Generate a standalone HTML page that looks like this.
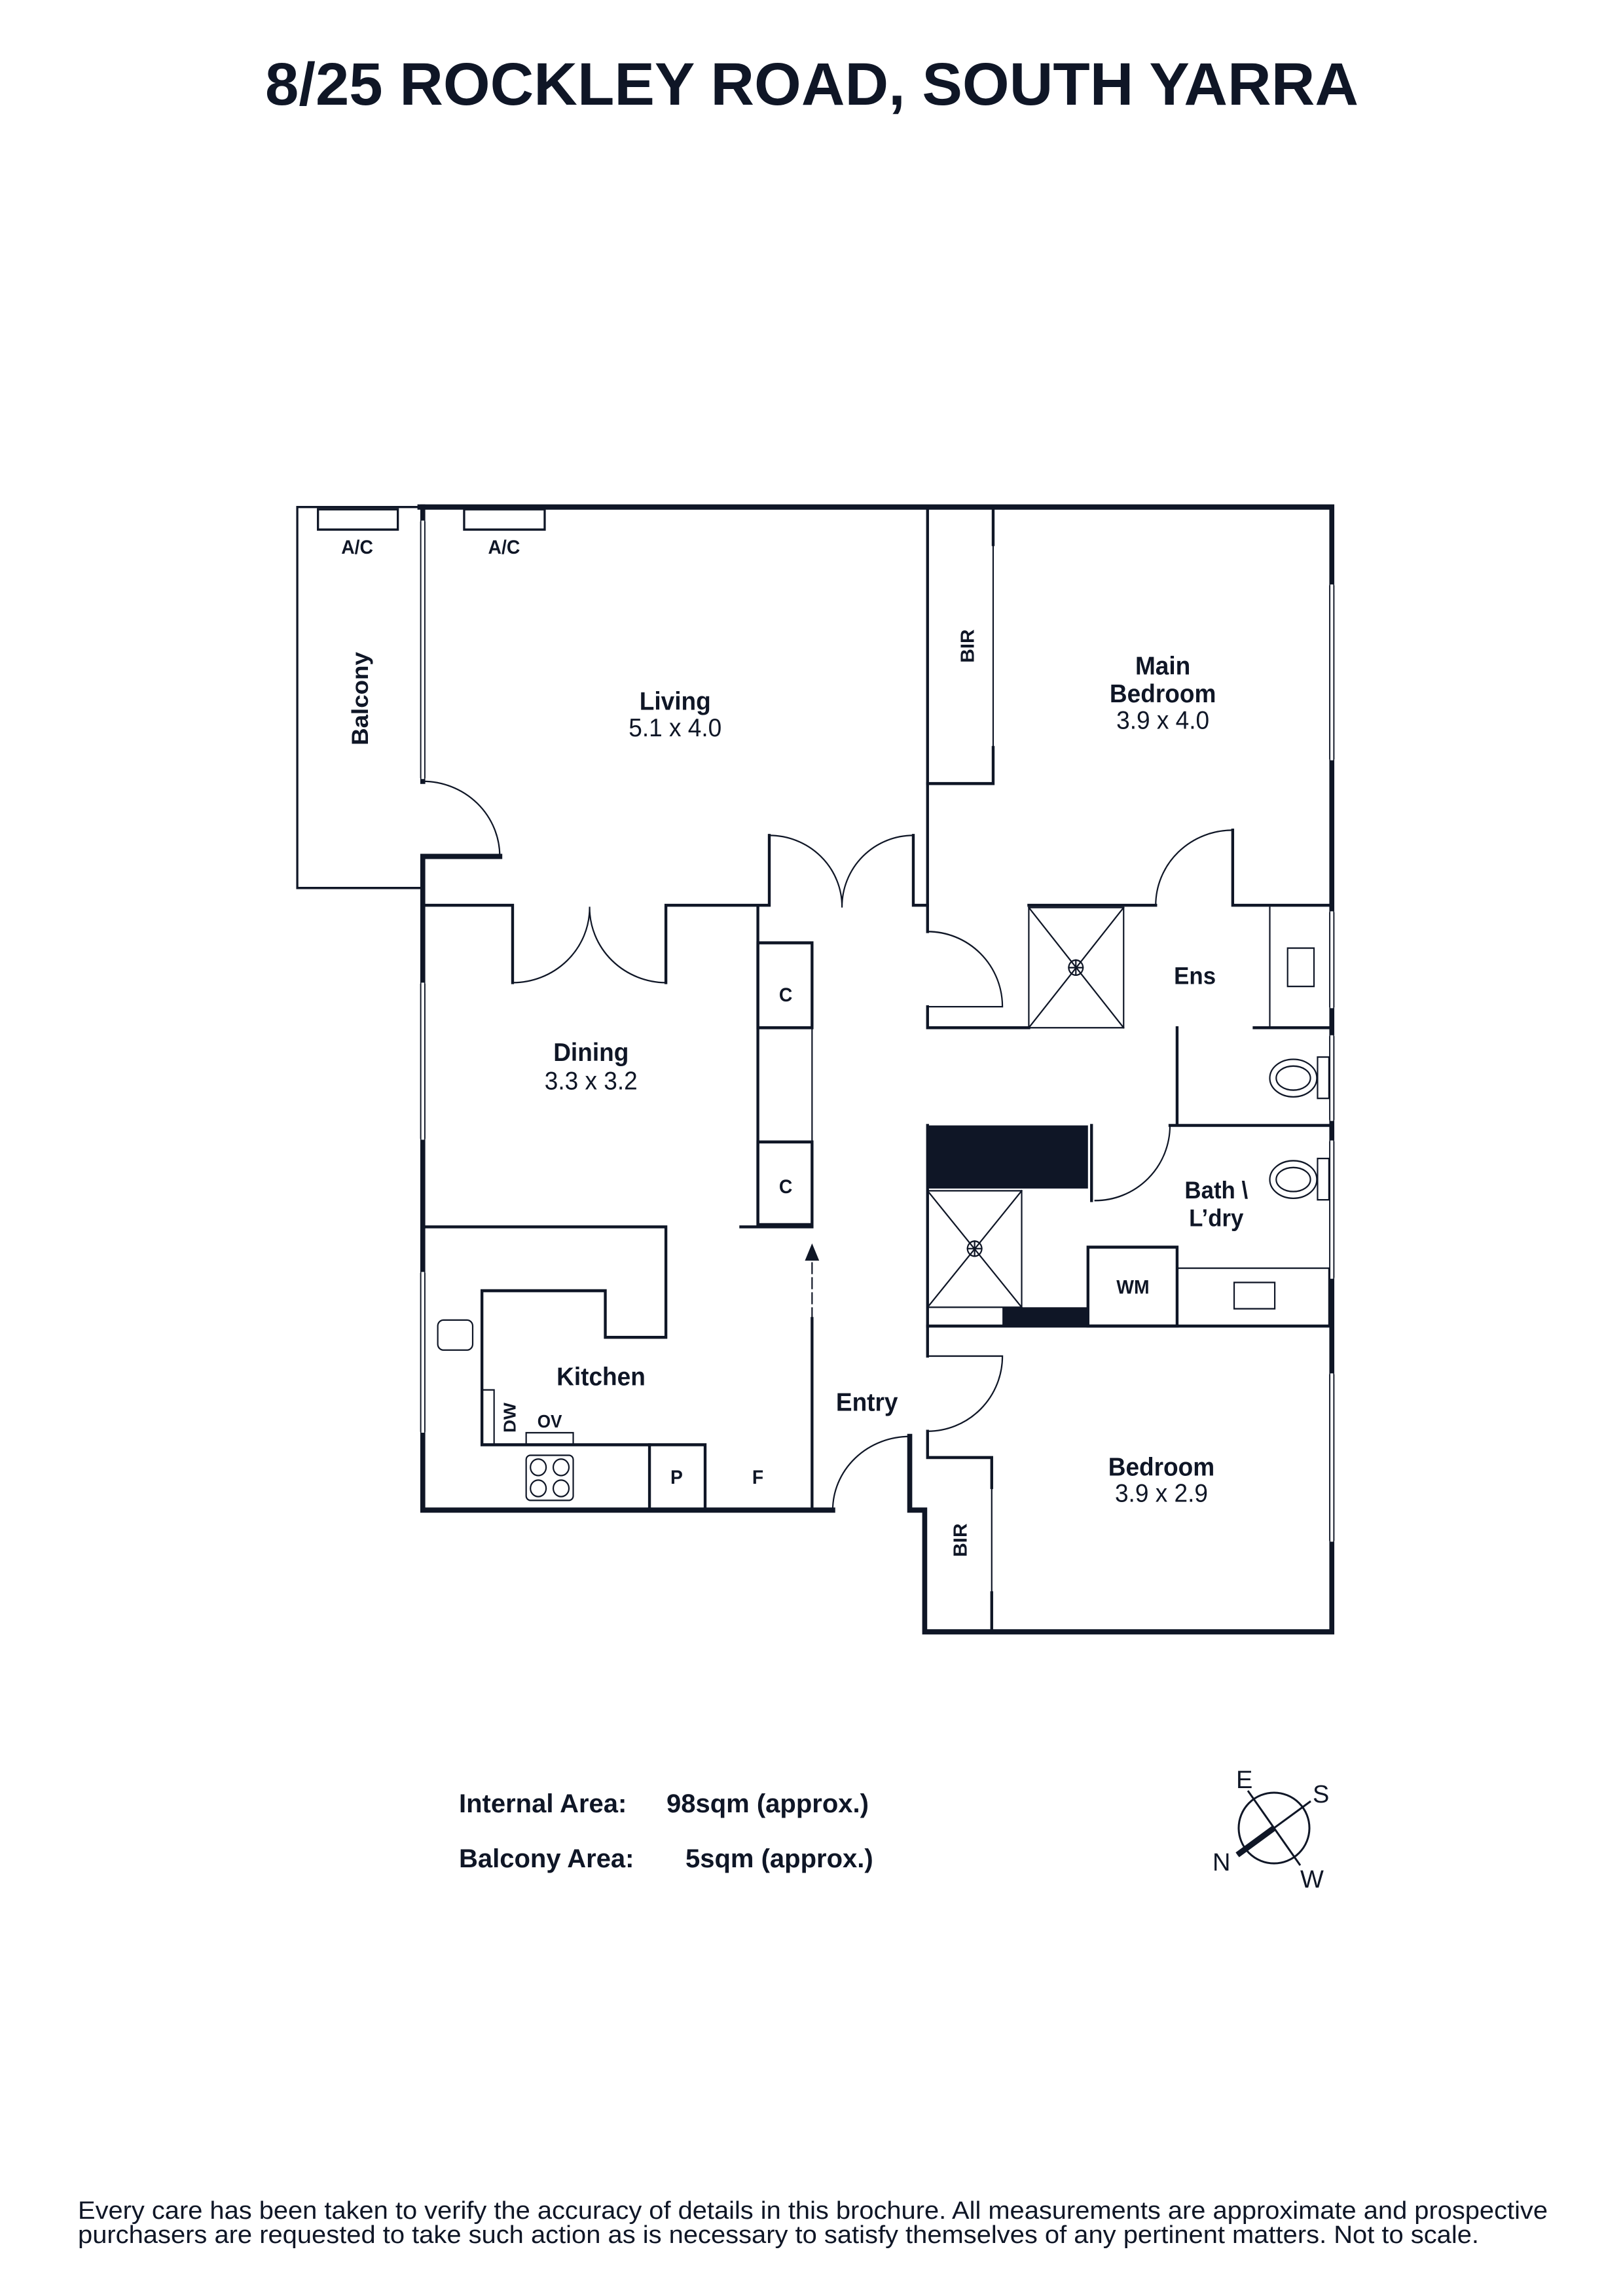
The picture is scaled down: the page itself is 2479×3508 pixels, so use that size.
<!DOCTYPE html>
<html><head><meta charset="utf-8"><style>
html,body{margin:0;padding:0;background:#fff}
svg{display:block}
text{font-family:"Liberation Sans",sans-serif;fill:#0f1626}
</style></head><body>
<svg width="2479" height="3508" viewBox="0 0 2479 3508" xmlns="http://www.w3.org/2000/svg">
<text x="1240" y="160" text-anchor="middle" font-size="92" font-weight="bold" textLength="1670" lengthAdjust="spacingAndGlyphs">8/25 ROCKLEY ROAD, SOUTH YARRA</text>

<g transform="translate(404,746) scale(1.089,1.148)" fill="none" stroke="#0f1626" stroke-linecap="square">
<g stroke-width="7">
<path d="M218,25 H1497 V1522 H926 V1360 H905 V1262"/>
<path d="M797,1360 H222 V490 H330"/>
<path d="M222,390 V25"/>
</g>
<g stroke="#fff" stroke-width="4">
<path d="M222,45 V385 M222,660 V865 M222,1045 V1255 M1497,130 V360 M1497,565 V690 M1497,730 V840 M1497,870 V1050 M1497,1180 V1400"/>
</g>
<g stroke-width="1.5">
<path d="M219,45 V385 M225,45 V385 M219,660 V865 M225,660 V865 M219,1045 V1255 M225,1045 V1255"/>
<path d="M1494,130 V360 M1500,130 V360 M1494,565 V690 M1500,565 V690 M1494,730 V840 M1500,730 V840 M1494,870 V1050 M1500,870 V1050 M1494,1180 V1400 M1500,1180 V1400"/>
</g>
<g stroke-width="3">
<path d="M218,25 H46 V532 H222"/>
<rect x="75" y="28" width="112" height="27"/>
<rect x="280" y="28" width="113" height="27"/>
</g>
<g stroke-width="4">
<path d="M222,555 H348 V658 M563,658 V555 H708 V462 M910,462 V555 H930"/>
<path d="M930,25 V590 M930,690 V718 H1072"/>
<path d="M930,393 H1022 M1022,30 V75 M1022,345 V393"/>
<path d="M1072,555 H1250 M1358,455 V555 H1497"/>
<path d="M1388,718 H1497 M1280,718 V848 H1270 M1270,848 H1497"/>
<path d="M1160,848 V948"/>
<path d="M930,1115 H1497"/>
<path d="M930,1115 V1155 M930,1255 V1290 H1020 M1020,1290 V1330 M1020,1470 V1522"/>
<path d="M768,1105 V1360"/>
<path d="M692,558 V980 M668,983 H768"/>
<rect x="692" y="605" width="76" height="113"/>
<rect x="692" y="870" width="76" height="110"/>
<path d="M222,983 H563 V1130 H478 V1068 H305 V1273 H540"/>
<rect x="540" y="1273" width="78" height="87"/>
<rect x="1155" y="1010" width="125" height="105"/>
<path d="M930,848 V1115"/>
</g>
<g stroke-width="2">
<path d="M1022,75 V345 M1020,1330 V1470 M768,605 V980"/>
<rect x="1072" y="558" width="133" height="160"/>
<path d="M1072,558 L1205,718 M1205,558 L1072,718"/>
<circle cx="1138" cy="638" r="10"/><path d="M1128,638 H1148 M1138,628 V648"/>
<rect x="930" y="935" width="132" height="155"/>
<path d="M930,935 L1062,1090 M1062,935 L930,1090"/>
<circle cx="996" cy="1012" r="10"/><path d="M986,1012 H1006 M996,1002 V1022"/>
<path d="M1410,558 V718"/>
<rect x="1435" y="612" width="37" height="51"/>
<rect x="1280" y="1038" width="213" height="77"/>
<rect x="1360" y="1057" width="57" height="35"/>
<ellipse cx="1443" cy="785" rx="33" ry="25"/><ellipse cx="1443" cy="785" rx="24" ry="16"/>
<rect x="1477" y="757" width="16" height="55"/>
<ellipse cx="1443" cy="920" rx="33" ry="25"/><ellipse cx="1443" cy="920" rx="24" ry="16"/>
<rect x="1477" y="892" width="16" height="55"/>
<rect x="305" y="1200" width="17" height="73"/>
<rect x="367" y="1257" width="66" height="16"/>
<rect x="367" y="1287" width="66" height="60" rx="6"/>
<circle cx="384" cy="1303" r="11"/><circle cx="416" cy="1303" r="11"/><circle cx="384" cy="1331" r="11"/><circle cx="416" cy="1331" r="11"/>
<rect x="243" y="1107" width="49" height="40" rx="8"/>
<path d="M222,390 A108,100 0 0 1 330,490"/>
<path d="M348,658 A108,100 0 0 0 456,558 M563,658 A108,100 0 0 1 456,558"/>
<path d="M708,462 A102,95 0 0 1 810,557 M910,462 A100,95 0 0 0 810,557"/>
<path d="M930,590 A105,100 0 0 1 1035,690 H930"/>
<path d="M1250,555 A108,100 0 0 1 1358,455"/>
<path d="M1165,948 A105,100 0 0 0 1270,848"/>
<path d="M930,1155 H1035 A105,100 0 0 1 930,1255"/>
<path d="M797,1360 A108,98 0 0 1 905,1262"/>
<path d="M768,1105 V1025" stroke-dasharray="14,6"/>
</g>
<rect x="930" y="848" width="225" height="84" fill="#0f1626" stroke="none"/>
<rect x="1035" y="1090" width="120" height="25" fill="#0f1626" stroke="none"/>
<path d="M758,1028 L768,1005 L778,1028 Z" fill="#0f1626" stroke="none"/>
</g>

<g transform="translate(404,746) scale(1.089,1.148)" font-weight="bold" text-anchor="middle">
<text x="130" y="87" font-size="26">A/C</text>
<text x="336" y="87" font-size="26">A/C</text>
<text x="145" y="280" font-size="32" transform="rotate(-90 145 280)">Balcony</text>
<text x="576" y="295" font-size="34">Living</text>
<text x="576" y="330" font-size="34" font-weight="normal">5.1 x 4.0</text>
<text x="995" y="210" font-size="26" transform="rotate(-90 995 210)">BIR</text>
<text x="1260" y="248" font-size="34">Main</text>
<text x="1260" y="285" font-size="34">Bedroom</text>
<text x="1260" y="320" font-size="34" font-weight="normal">3.9 x 4.0</text>
<text x="1305" y="660" font-size="32">Ens</text>
<text x="458" y="762" font-size="34">Dining</text>
<text x="458" y="800" font-size="34" font-weight="normal">3.3 x 3.2</text>
<text x="731" y="683" font-size="26">C</text>
<text x="731" y="938" font-size="26">C</text>
<text x="1335" y="945" font-size="32">Bath \</text>
<text x="1335" y="982" font-size="32">L’dry</text>
<text x="1218" y="1072" font-size="26">WM</text>
<text x="472" y="1194" font-size="34">Kitchen</text>
<text x="845" y="1228" font-size="34">Entry</text>
<text x="400" y="1250" font-size="24">OV</text>
<text x="352" y="1237" font-size="24" transform="rotate(-90 352 1237)">DW</text>
<text x="578" y="1325" font-size="26">P</text>
<text x="692" y="1325" font-size="26">F</text>
<text x="1258" y="1314" font-size="34">Bedroom</text>
<text x="1258" y="1349" font-size="34" font-weight="normal">3.9 x 2.9</text>
<text x="985" y="1400" font-size="26" transform="rotate(-90 985 1400)">BIR</text>
</g>

<g font-size="40" font-weight="bold">
<text x="701" y="2769">Internal Area:</text>
<text x="1018" y="2769">98sqm (approx.)</text>
<text x="701" y="2853">Balcony Area:</text>
<text x="1047" y="2853">5sqm (approx.)</text>
</g>

<g transform="translate(0,-16)">
<g stroke="#0f1626" fill="none">
<circle cx="1946" cy="2809" r="54" stroke-width="3"/>
<path d="M1890,2850 L2002,2768" stroke-width="3"/>
<path d="M1890,2850 L1946,2809" stroke-width="9"/>
<path d="M1906,2752 L1986,2866" stroke-width="3"/>
</g>
<g font-size="38">
<text x="1888" y="2748">E</text>
<text x="2005" y="2770">S</text>
<text x="1852" y="2874">N</text>
<text x="1986" y="2900">W</text>
</g>
</g>

<g font-size="38">
<text x="119" y="3390" textLength="2245" lengthAdjust="spacingAndGlyphs">Every care has been taken to verify the accuracy of details in this brochure. All measurements are approximate and prospective</text>
<text x="119" y="3427" textLength="2140" lengthAdjust="spacingAndGlyphs">purchasers are requested to take such action as is necessary to satisfy themselves of any pertinent matters. Not to scale.</text>
</g>
</svg>
</body></html>
